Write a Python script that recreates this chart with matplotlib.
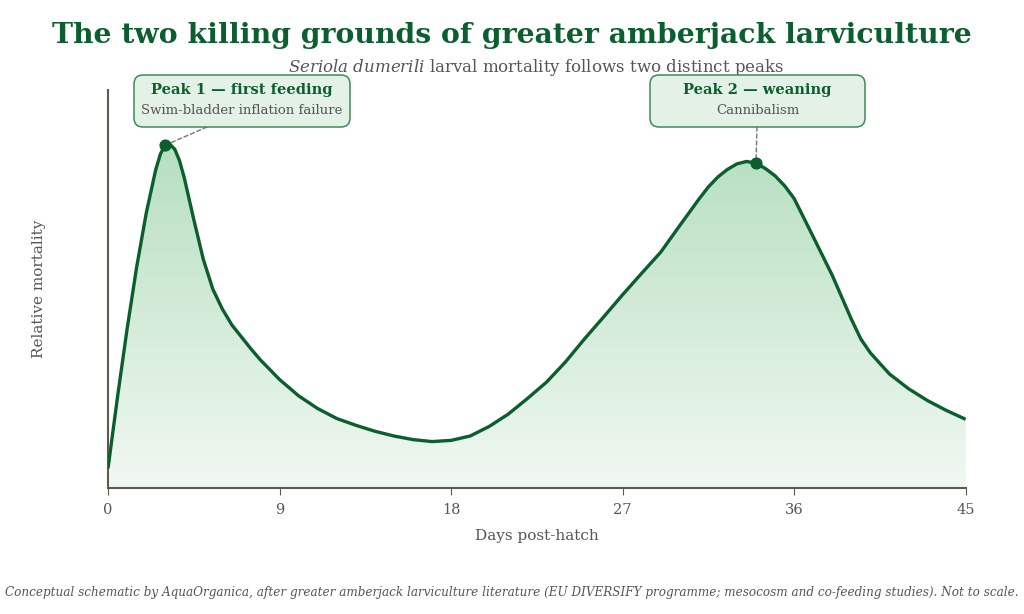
import matplotlib.pyplot as plt
import numpy as np
from matplotlib.colors import LinearSegmentedColormap
from matplotlib.patches import FancyBboxPatch

plt.rcParams['font.family'] = ['DejaVu Serif']
plt.rcParams['mathtext.fontset'] = 'dejavuserif'

# values (relative mortality vs days post-hatch)
days = [0, 0.5, 1, 1.5, 2, 2.5, 2.75, 3, 3.25, 3.5, 3.75, 4, 4.5, 5, 5.5, 6,
        6.5, 7, 7.5, 8, 9, 10, 11, 12, 13, 14, 15, 16, 17, 18, 19, 20, 21, 22,
        23, 24, 25, 26, 27, 28, 29, 30, 31, 31.5, 32, 32.5, 33, 33.5, 34, 34.5,
        35, 35.5, 36, 37, 38, 39, 39.5, 40, 41, 42, 43, 44, 45]
mortality = [0.05, 0.23, 0.40, 0.555, 0.69, 0.80, 0.84, 0.862, 0.864, 0.852,
             0.823, 0.78, 0.675, 0.575, 0.5, 0.45, 0.41, 0.38, 0.35, 0.322,
             0.273, 0.232, 0.2, 0.175, 0.158, 0.143, 0.131, 0.122, 0.117,
             0.12, 0.131, 0.155, 0.186, 0.225, 0.266, 0.317, 0.375, 0.43,
             0.486, 0.54, 0.593, 0.66, 0.726, 0.757, 0.782, 0.801, 0.815,
             0.821, 0.817, 0.803, 0.785, 0.76, 0.728, 0.632, 0.535, 0.425,
             0.375, 0.34, 0.287, 0.25, 0.22, 0.195, 0.173]

peak_days = [3, 34]
peak_vals = [0.862, 0.817]
peak_titles = ["Peak 1 \u2014 first feeding", "Peak 2 \u2014 weaning"]
peak_notes = ["Swim-bladder inflation failure", "Cannibalism"]
xticks = [0, 9, 18, 27, 36, 45]

green = '#0b5e2e'
grey = '#5b5b50'
textgrey = '#555555'

fig = plt.figure(figsize=(10.24, 6.14), dpi=100)
ax = fig.add_axes([0.1055, 0.205, 0.8375, 0.648])

# gradient fill under the curve
cmap = LinearSegmentedColormap.from_list('g', ['#f1f8f2', '#b6dfc0'])
grad = np.linspace(0, 1, 256).reshape(-1, 1)
im = ax.imshow(grad, cmap=cmap, aspect='auto', origin='lower',
               extent=[0, 45, 0, max(mortality)], zorder=1)
poly = ax.fill_between(days, mortality, 0, color='none', lw=0)
im.set_clip_path(poly.get_paths()[0], transform=ax.transData)

ax.plot(days, mortality, color=green, lw=2.4, solid_joinstyle='round',
        solid_capstyle='butt', zorder=3)
ax.scatter(peak_days, peak_vals, s=60, color=green, zorder=4)

# annotation boxes (positions in inches from bottom-left)
boxes = [(1.34, 4.87, 2.16, 0.52), (6.50, 4.87, 2.15, 0.52)]
anchors = [(2.07, 4.87), (7.57, 4.87)]
for i in range(2):
    x0, y0, w, h = boxes[i]
    fig.patches.append(FancyBboxPatch((x0, y0), w, h,
                                      boxstyle='round,pad=0,rounding_size=0.09',
                                      fc='#e4f1e7', ec='#3d8a5c', lw=1.1,
                                      transform=fig.dpi_scale_trans, zorder=5))
    cx = x0 + w / 2
    fig.text(cx / 10.24, (y0 + 0.37) / 6.14, peak_titles[i], ha='center',
             va='center', fontsize=10.5, fontweight='bold', color=green, zorder=6)
    fig.text(cx / 10.24, (y0 + 0.165) / 6.14, peak_notes[i], ha='center',
             va='center', fontsize=9.5, color=textgrey, zorder=6)
    ax.annotate('', xy=(peak_days[i], peak_vals[i]), xycoords='data',
                xytext=anchors[i], textcoords=fig.dpi_scale_trans,
                arrowprops=dict(arrowstyle='-', ls=(0, (3, 2)), color='#777777',
                                lw=1, shrinkA=0, shrinkB=0),
                zorder=2, annotation_clip=False)

ax.set_xlim(0, 45)
ax.set_ylim(0, 1)
ax.set_xticks(xticks)
ax.set_yticks([])
ax.tick_params(axis='x', colors=grey, labelcolor=textgrey, labelsize=10.5,
               length=5, pad=6)
for s in ['top', 'right']:
    ax.spines[s].set_visible(False)
for s in ['left', 'bottom']:
    ax.spines[s].set_color(grey)
    ax.spines[s].set_linewidth(1.5)
ax.set_xlabel("Days post-hatch", fontsize=11, color=textgrey, labelpad=8)
ax.set_ylabel("Relative mortality", fontsize=11, color=textgrey, labelpad=45)

fig.text(0.5, 0.942, "The two killing grounds of greater amberjack larviculture",
         ha='center', va='center', fontsize=20.3, fontweight='bold', color=green)
fig.text(0.5234, 0.89, r"$\it{Seriola\ dumerili}$ larval mortality follows two distinct peaks",
         ha='center', va='center', fontsize=12, color=textgrey)
fig.text(0.5, 0.035, "Conceptual schematic by AquaOrganica, after greater amberjack larviculture "
         "literature (EU DIVERSIFY programme; mesocosm and co-feeding studies). Not to scale.",
         ha='center', va='center', fontsize=8.65, style='italic', color=textgrey)

fig.savefig('out.png', dpi=100)
